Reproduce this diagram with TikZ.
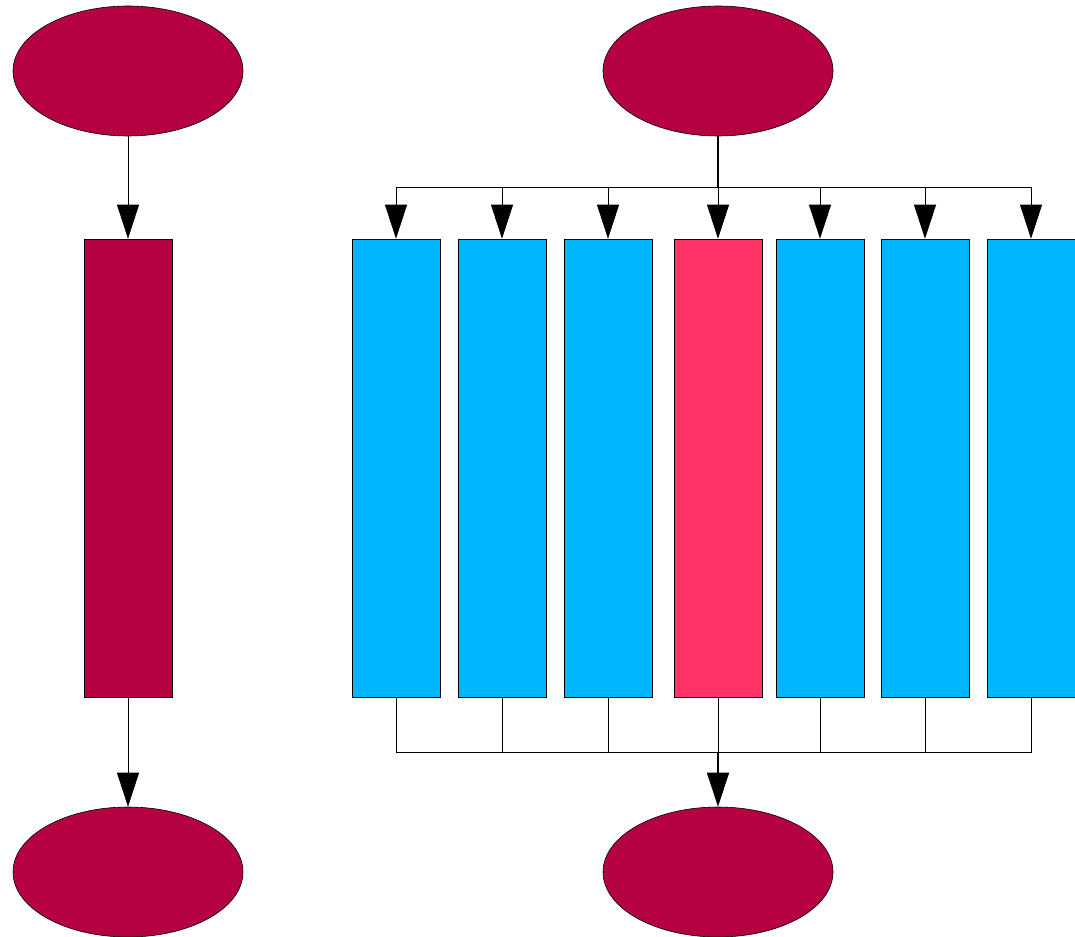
\documentclass[tikz,border=0pt]{standalone}
\usetikzlibrary{shapes.geometric,arrows.meta}
\definecolor{crimson}{RGB}{181,0,66}
\definecolor{skyblue}{RGB}{0,183,255}
\definecolor{rose}{RGB}{255,51,102}
\tikzset{
  term/.style={ellipse,draw=black,line width=0.6pt,fill=crimson,minimum width=230pt,minimum height=130pt,inner sep=0pt},
  task/.style={rectangle,draw=black,line width=0.6pt,minimum width=88pt,minimum height=458pt,inner sep=0pt},
  flow/.style={line width=0.8pt,-{Triangle[length=34pt,width=22pt]}},
  link/.style={line width=0.8pt},
}
\begin{document}
\begin{tikzpicture}[x=1pt,y=-1pt]
\useasboundingbox (0,0) rectangle (1075,936);
% single-task branch
\node[term] (s1) at (128,71) {};
\node[task,fill=crimson] (w) at (128,468) {};
\node[term] (e1) at (128,872) {};
\draw[flow] (s1.south) -- (w.north);
\draw[flow] (w.south) -- (e1.north);
% parallel branch
\node[term] (s2) at (718,71) {};
\node[term] (e2) at (718,872) {};
\node[task,fill=skyblue] (p1) at (396,468) {};
\node[task,fill=skyblue] (p2) at (502,468) {};
\node[task,fill=skyblue] (p3) at (608,468) {};
\node[task,fill=rose]    (p4) at (718,468) {};
\node[task,fill=skyblue] (p5) at (820,468) {};
\node[task,fill=skyblue] (p6) at (925,468) {};
\node[task,fill=skyblue] (p7) at (1031,468) {};
\coordinate (fork) at (718,187);
\coordinate (join) at (718,752);
\draw[link,line width=1.4pt] (s2.south) -- (fork);
\foreach \p in {p1,p2,p3,p4,p5,p6,p7}{
  \draw[flow] (fork) -| (\p.north);
  \draw[link] (\p.south) |- (join);
}
\draw[flow,line width=1.4pt] (join) -- (e2.north);
\end{tikzpicture}
\end{document}
